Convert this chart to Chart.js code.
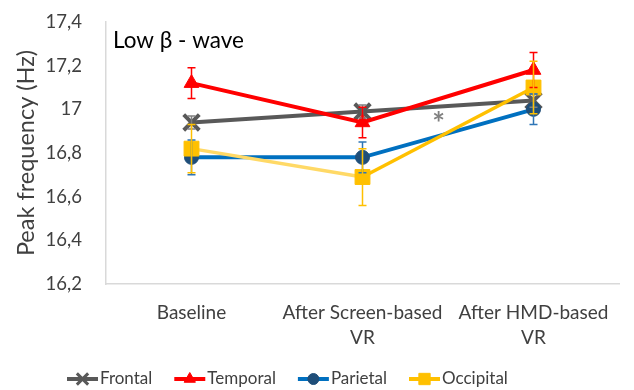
<!DOCTYPE html>
<html>
<head>
<meta charset="utf-8">
<script src="https://cdn.jsdelivr.net/npm/chart.js@4/dist/chart.umd.min.js"></script>
<style>
  html, body { margin: 0; padding: 0; background: #fff; }
  #wrap { width: 634px; height: 390px; }
</style>
</head>
<body>
<div id="wrap"><canvas id="c" width="634" height="390"></canvas></div>
<script>
// Categories along the x axis (multi-line labels)
const categories = [['Baseline'], ['After Screen-based', 'VR'], ['After HMD-based', 'VR']];

// Mean peak frequency (Hz) per region
const frontal   = [16.94, 16.99, 17.04];
const temporal  = [17.12, 16.94, 17.18];
const parietal  = [16.78, 16.78, 17.00];
const occipital = [16.82, 16.69, 17.10];

// Error bar half-lengths (Hz)
const frontalErr   = [0.03, 0.03, 0.03];
const temporalErr  = [0.07, 0.07, 0.08];
const parietalErr  = [0.08, 0.07, 0.07];
const occipitalErr = [0.11, 0.13, 0.12];

// Y axis tick labels (decimal comma)
const yTickLabels = ['16,2', '16,4', '16,6', '16,8', '17', '17,2', '17,4'];

// Significance marker: position in category/value units
const starX = 1.445;
const starY = 16.965;

const FONT = 'Lato, "Open Sans", sans-serif';
const TEXT = '#404040';

const datasets = [
  { label: 'Frontal', data: frontal, err: frontalErr, borderColor: '#595959', backgroundColor: '#595959',
    errColor: '#7f7f7f', pointStyle: 'crossRot', pointRadius: 11, pointBorderWidth: 4, borderWidth: 4, order: 4,
    legendRadius: 8 },
  { label: 'Temporal', data: temporal, err: temporalErr, borderColor: '#FF0000', backgroundColor: '#FF0000',
    errColor: '#FF0000', pointStyle: 'triangle', pointRadius: 8.5, pointBorderWidth: 1, borderWidth: 4, order: 3,
    legendRadius: 6.5 },
  { label: 'Parietal', data: parietal, err: parietalErr, borderColor: '#0070C0', backgroundColor: '#1F4E79',
    pointBorderColor: '#1F4E79', errColor: '#2E75B6', pointStyle: 'circle', pointRadius: 7, pointBorderWidth: 1, borderWidth: 4, order: 2,
    legendRadius: 5.5 },
  { label: 'Occipital', data: occipital, err: occipitalErr, borderColor: '#FFC000', backgroundColor: '#FFC000',
    errColor: '#FFC000', pointStyle: 'rect', pointRadius: 10.5, pointBorderWidth: 1, borderWidth: 3.5, order: 1,
    legendRadius: 8,
    segment: { borderColor: c => c.p0DataIndex === 0 ? '#FFD966' : '#FFC000' } }
];
datasets.forEach(d => {
  d.fill = false;
  d.tension = 0;
  d.pointBackgroundColor = d.backgroundColor;
  if (!d.pointBorderColor) d.pointBorderColor = d.borderColor;
  d.pointHoverRadius = d.pointRadius;
});

// Vertical error bars with caps
const errorBars = {
  id: 'errorBars',
  afterDatasetsDraw(chart) {
    const ctx = chart.ctx, y = chart.scales.y;
    chart.data.datasets.forEach((ds, di) => {
      const meta = chart.getDatasetMeta(di);
      ctx.save();
      ctx.strokeStyle = ds.errColor;
      ctx.lineWidth = 1.5;
      ds.data.forEach((v, i) => {
        const px = meta.data[i].x;
        const top = y.getPixelForValue(v + ds.err[i]);
        const bot = y.getPixelForValue(v - ds.err[i]);
        ctx.beginPath();
        ctx.moveTo(px, top); ctx.lineTo(px, bot);
        ctx.moveTo(px - 4, top); ctx.lineTo(px + 4, top);
        ctx.moveTo(px - 4, bot); ctx.lineTo(px + 4, bot);
        ctx.stroke();
      });
      ctx.restore();
    });
  }
};

// Panel title and significance asterisk
const annotations = {
  id: 'annotations',
  afterDraw(chart) {
    const ctx = chart.ctx, a = chart.chartArea, x = chart.scales.x, y = chart.scales.y;
    ctx.save();
    ctx.fillStyle = '#000';
    ctx.font = '22.5px ' + FONT;
    ctx.textBaseline = 'middle';
    ctx.textAlign = 'left';
    ctx.fillText('Low β - wave', a.left + 7, a.top + 19);
    ctx.fillStyle = '#808080';
    ctx.font = 'bold 30px ' + FONT;
    ctx.textAlign = 'center';
    ctx.textBaseline = 'alphabetic';
    const m = ctx.measureText('*');
    const cy = y.getPixelForValue(starY);
    ctx.fillText('*', x.getPixelForValue(starX), cy + (m.actualBoundingBoxAscent - m.actualBoundingBoxDescent) / 2);
    ctx.restore();
  }
};

// Bottom legend: line segment with marker, then label
const lineLegend = {
  id: 'lineLegend',
  afterDraw(chart) {
    const ctx = chart.ctx;
    const cy = 379;
    let cx = 65;
    ctx.save();
    ctx.font = '17px ' + FONT;
    ctx.textBaseline = 'middle';
    chart.data.datasets.forEach(ds => {
      ctx.strokeStyle = ds.borderColor;
      ctx.lineWidth = 4;
      ctx.beginPath();
      ctx.moveTo(cx + 2, cy); ctx.lineTo(cx + 33, cy);
      ctx.stroke();
      ctx.fillStyle = ds.pointBackgroundColor;
      ctx.strokeStyle = ds.pointBorderColor;
      ctx.lineWidth = ds.pointStyle === 'crossRot' ? 3 : ds.pointBorderWidth;
      Chart.helpers.drawPoint(ctx, {
        pointStyle: ds.pointStyle, radius: ds.legendRadius, borderWidth: ctx.lineWidth, rotation: 0
      }, cx + 17.5, cy);
      ctx.fillStyle = TEXT;
      ctx.fillText(ds.label, cx + 35, cy);
      cx += 35 + ctx.measureText(ds.label).width + 20;
    });
    ctx.restore();
  }
};

new Chart(document.getElementById('c'), {
  type: 'line',
  data: { labels: categories, datasets },
  options: {
    responsive: false,
    animation: false,
    devicePixelRatio: 1,
    layout: { padding: { top: 22, right: 14, bottom: 30, left: 12 } },
    plugins: { legend: { display: false }, tooltip: { enabled: false } },
    scales: {
      x: {
        offset: true,
        grid: { display: false, drawTicks: false },
        border: { display: true, color: '#D9D9D9', width: 1.5 },
        ticks: { color: TEXT, font: { family: FONT, size: 19, lineHeight: 1.3 }, padding: 17, maxRotation: 0, autoSkip: false },
        afterFit(s) { s.height = 76; }
      },
      y: {
        min: 16.2, max: 17.4,
        // transparent tick marks provide the gap between labels and the axis line
        grid: { display: true, drawOnChartArea: false, drawTicks: true, tickLength: 22, tickColor: 'rgba(0,0,0,0)' },
        border: { display: true, color: '#D9D9D9', width: 1.5 },
        ticks: {
          stepSize: 0.2, color: TEXT, font: { family: FONT, size: 18.5 }, padding: 2,
          callback: (v, i) => yTickLabels[i]
        },
        title: { display: true, text: 'Peak frequency (Hz)', color: TEXT, font: { family: FONT, size: 23.5 }, padding: 0 },
        afterFit(s) { s.width = 94; }
      }
    }
  },
  plugins: [errorBars, annotations, lineLegend]
});
</script>
</body>
</html>
